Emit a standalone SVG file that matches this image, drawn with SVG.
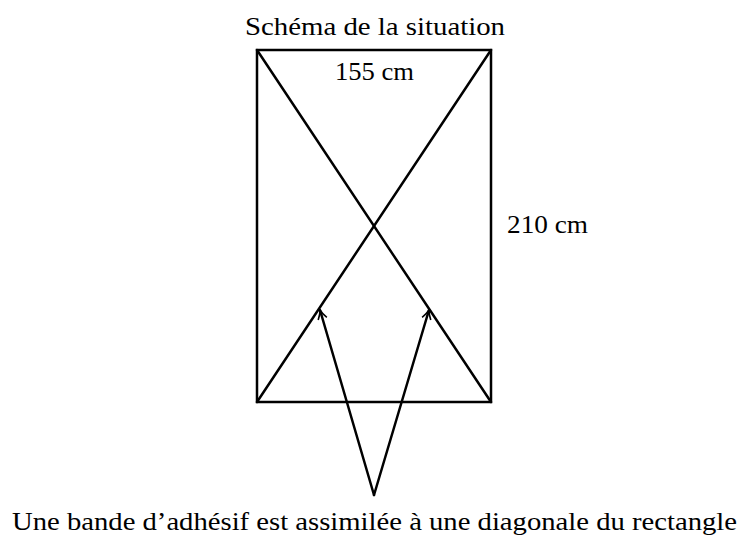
<svg xmlns="http://www.w3.org/2000/svg" width="749" height="553" viewBox="0 0 749 553">
<style>
text{font-family:"Liberation Serif","DejaVu Serif",serif;font-size:26px;fill:#000}
.l{stroke:#000;stroke-width:2.5;fill:none;stroke-linecap:round}
</style>
<defs>
<marker id="ah" markerWidth="12" markerHeight="12" refX="10" refY="6" orient="auto" markerUnits="userSpaceOnUse">
<path d="M1,1.5 Q6,5 10,6 Q6,7 1,10.5" fill="none" stroke="#000" stroke-width="1.6"/>
</marker>
</defs>
<rect width="749" height="553" fill="#fff"/>
<g id="rectangle">
<rect class="l" x="257" y="50" width="234" height="352"/>
</g>
<g id="connectors">
<line class="l" x1="257" y1="50" x2="491" y2="402"/>
<line class="l" x1="491" y1="50" x2="257" y2="402"/>
<line class="l" x1="374" y1="495" x2="320" y2="310" marker-end="url(#ah)"/>
<line class="l" x1="374" y1="495" x2="429" y2="310" marker-end="url(#ah)"/>
</g>
<g id="labels">
<text x="245" y="35" textLength="260" lengthAdjust="spacingAndGlyphs">Schéma de la situation</text>
<text x="335" y="80" textLength="79" lengthAdjust="spacingAndGlyphs">155 cm</text>
<text x="507" y="233" textLength="81" lengthAdjust="spacingAndGlyphs">210 cm</text>
<text x="12" y="530" textLength="725" lengthAdjust="spacingAndGlyphs">Une bande d’adhésif est assimilée à une diagonale du rectangle</text>
</g>
</svg>
